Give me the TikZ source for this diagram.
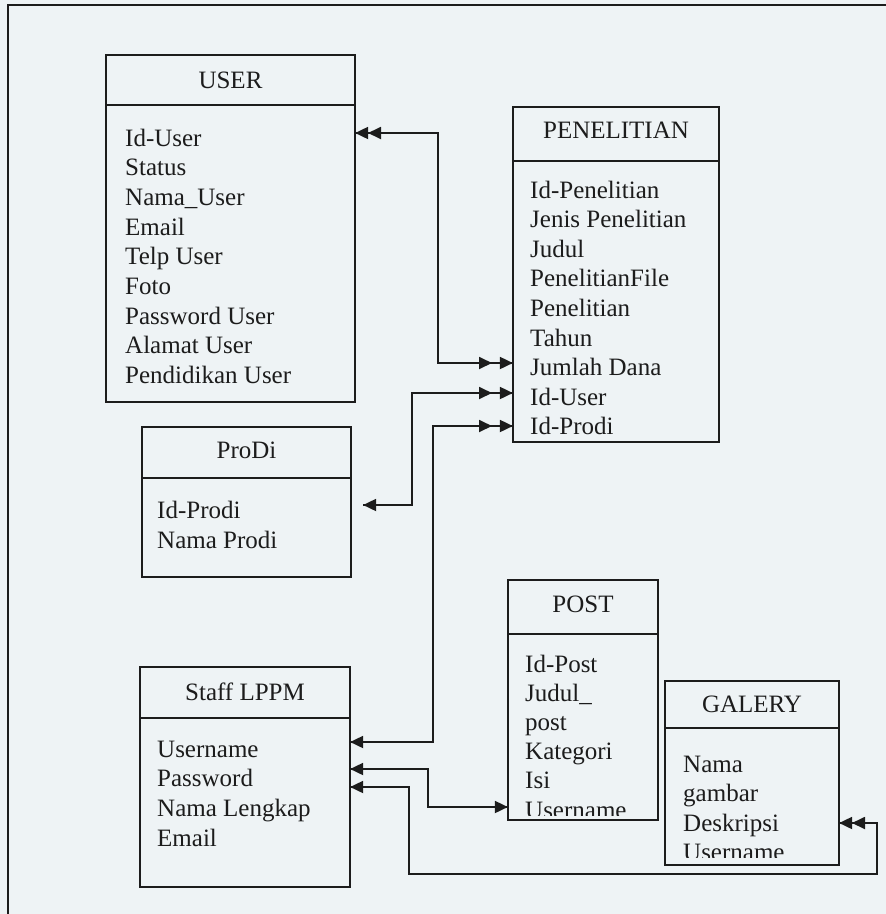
\documentclass[tikz,border=0pt]{standalone}
\usepackage{fontspec}
\setmainfont{Liberation Serif}
\usetikzlibrary{arrows.meta,calc,decorations.markings}
\definecolor{bg}{RGB}{238,243,245}
\definecolor{ink}{RGB}{28,28,28}
\tikzset{
  tri/.tip={Triangle[length=13pt,width=12pt]},
  tipend/.style={postaction={decorate,decoration={markings,mark=at position #1 with {\arrow{tri}}}}},
  tipstart/.style={postaction={decorate,decoration={markings,mark=at position #1 with {\arrowreversed{tri}}}}},
  box/.style={draw=ink,line width=1.8pt,rectangle,inner sep=0pt,outer sep=0pt,anchor=north west},
  txt/.style={anchor=base west,inner sep=0pt,text=ink,font=\fontsize{25}{30}\selectfont},
  ttl/.style={anchor=base,inner sep=0pt,text=ink,font=\fontsize{25}{30}\selectfont},
  conn/.style={draw=ink,line width=1.8pt},
}
\begin{document}
\begin{tikzpicture}[x=1pt,y=-1pt]
\fill[bg] (0,0) rectangle (886,914);
\useasboundingbox (0,0) rectangle (886,914);
% outer frame
\coordinate (fbl) at (8,914);
\coordinate (ftl) at (8,5);
\coordinate (ftr) at (886,5);
\draw[conn] (fbl) -- (ftl) -- (ftr);

% boxes
\node[box,minimum width=249pt,minimum height=347pt] (user) at (106,55) {};
\node[box,minimum width=206pt,minimum height=335pt] (pen) at (513,107) {};
\node[box,minimum width=209pt,minimum height=150pt] (prodi) at (142,427) {};
\node[box,minimum width=210pt,minimum height=220pt] (staff) at (140,667) {};
\node[box,minimum width=150pt,minimum height=240pt] (post) at (508,580) {};
\node[box,minimum width=174pt,minimum height=184pt] (galery) at (665,681) {};

% header dividers
\draw[conn] ($(user.north west)+(0,50)$) -- ($(user.north east)+(0,50)$);
\draw[conn] ($(pen.north west)+(0,54)$) -- ($(pen.north east)+(0,54)$);
\draw[conn] ($(prodi.north west)+(0,51)$) -- ($(prodi.north east)+(0,51)$);
\draw[conn] ($(staff.north west)+(0,51)$) -- ($(staff.north east)+(0,51)$);
\draw[conn] ($(post.north west)+(0,54)$) -- ($(post.north east)+(0,54)$);
\draw[conn] ($(galery.north west)+(0,47)$) -- ($(galery.north east)+(0,47)$);

% titles
\node[ttl] (userT) at ($(user.north)+(0,33)$) {USER};
\node[ttl] (penT) at ($(pen.north)+(0,31)$) {PENELITIAN};
\node[ttl] (prodiT) at ($(prodi.north)+(0,31)$) {ProDi};
\node[ttl] (staffT) at ($(staff.north)+(0,33)$) {Staff LPPM};
\node[ttl] (postT) at ($(post.north)+(0,32)$) {POST};
\node[ttl] (galeryT) at ($(galery.north)+(0,31)$) {GALERY};

% attributes
\foreach \t [count=\i from 0] in {Id-User,Status,Nama\_User,Email,Telp User,Foto,Password User,Alamat User,Pendidikan User}
  \node[txt] (ua\i) at (125,146+29.7*\i) {\t};
\foreach \t [count=\i from 0] in {Id-Penelitian,Jenis Penelitian,Judul,PenelitianFile,Penelitian,Tahun,Jumlah Dana,Id-User,Id-Prodi}
  \node[txt] (pa\i) at (530,198+29.6*\i) {\t};
\foreach \t [count=\i from 0] in {Id-Prodi,Nama Prodi}
  \node[txt] (ra\i) at (157,518+30*\i) {\t};
\foreach \t [count=\i from 0] in {Username,Password,Nama Lengkap,Email}
  \node[txt] (sa\i) at (157,757+29.7*\i) {\t};
\begin{scope}
  \clip (508,580) rectangle (658,815);
  \foreach \t [count=\i from 0] in {Id-Post,Judul\_,post,Kategori,Isi,Username}
    \node[txt] (oa\i) at (525,672+29.2*\i) {\t};
\end{scope}
\begin{scope}
  \clip (665,681) rectangle (839,857);
  \foreach \t [count=\i from 0] in {Nama,gambar,Deskripsi,Username}
    \node[txt] (ga\i) at (683,772+29.5*\i) {\t};
\end{scope}

% connectors
\draw[conn,tipstart=0.1pt,tipstart=13pt,tipend=-0.1pt,tipend=-21pt]
  ($(user.north east)+(0,78)$) -- ++(83,0) |- ($(pen.north west)+(0,256)$);
\draw[conn,tipstart=0.1pt,tipstart=21pt,tipend=-0.1pt]
  ($(pen.north west)+(0,286)$) -- ++(-101,0) |- ($(prodi.north east)+(12,78)$);
\draw[conn,tipstart=0.1pt,tipstart=21pt,tipend=-0.1pt]
  ($(pen.north west)+(0,319)$) -- ++(-80,0) |- ($(staff.north east)+(0,75)$);
\draw[conn,tipstart=0.1pt,tipend=-0.1pt]
  ($(post.north west)+(0,227)$) -- ++(-80,0) |- ($(staff.north east)+(0,102)$);
\draw[conn,tipstart=0.1pt,tipstart=13pt,tipend=-0.1pt]
  ($(galery.north east)+(0,142)$) -- ++(38,0) |- ++(-468,51) |- ($(staff.north east)+(0,120)$);
\end{tikzpicture}
\end{document}
